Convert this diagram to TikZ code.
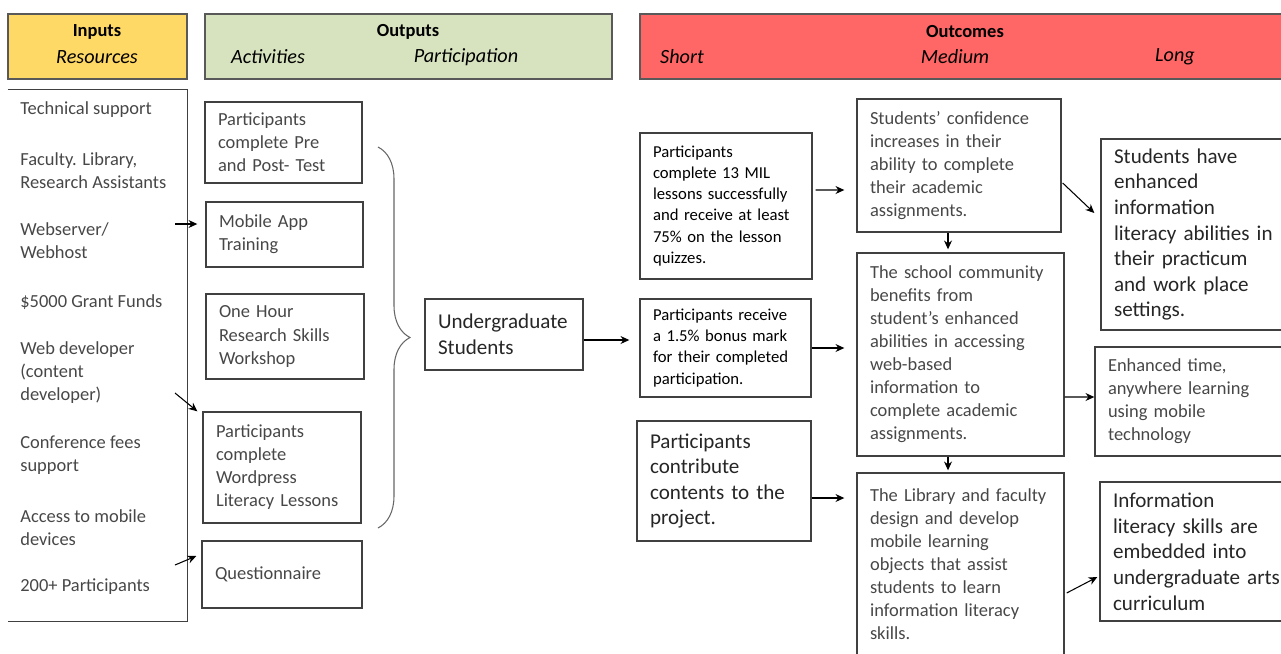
\documentclass[tikz,border=0pt]{standalone}
\usepackage{fontspec}
\setmainfont{Carlito}
\usepackage{tikz}
\usetikzlibrary{arrows.meta, calc, positioning, decorations.pathreplacing}
\definecolor{inputs}{RGB}{255,217,102}
\definecolor{outputs}{RGB}{215,227,190}
\definecolor{outcomes}{RGB}{255,102,102}

\begin{document}
\begin{tikzpicture}[x=0.02cm, y=-0.02cm]
% TikZ styles
\tikzset{
  head/.style={rectangle, draw=black!65, line width=1.1pt, minimum height=1.3cm},
  headtitle/.style={font=\fontsize{10.5}{12}\selectfont\bfseries, inner sep=0pt},
  headsub/.style={font=\fontsize{11.5}{13}\selectfont\itshape, inner sep=0pt},
  item/.style={anchor=west, align=left, inner sep=0pt, text=black!72, font=\fontsize{10.5}{13.1}\selectfont},
  textbox/.style={rectangle, draw=black!75, line width=0.8pt, inner xsep=0.26cm, inner ysep=0pt, align=left, text=black!72, font=\fontsize{10.5}{13.1}\selectfont},
  smallbox/.style={textbox, text=black, font=\fontsize{9.5}{12}\selectfont},
  bigbox/.style={textbox, text=black!85, font=\fontsize{12}{14.6}\selectfont},
  arrow/.style={-{Stealth[length=5pt, width=4.5pt]}, line width=0.6pt},
  bracestyle/.style={decorate, decoration={brace, amplitude=0.64cm}, draw=black!60, line width=0.6pt}
}
\clip (0,0) rectangle (1281,653);

%==========================
% Kopfzeilen
%==========================
\node[head, fill=inputs, minimum width=3.58cm] (hin) at (97.5,46.5) {};
\node[head, fill=outputs, minimum width=8.14cm] (hout) at (408.5,46.5) {};
\node[head, fill=outcomes, minimum width=13.2cm] (hoc) at (970,46.5) {};

\node[headtitle] (tin) at (97,32) {Inputs};
\node[headsub] (sres) at (97,57) {Resources};
\node[headtitle] (tout) at (408,32) {Outputs};
\node[headsub] (sact) at (268,57) {Activities};
\node[headsub] (spart) at (466,57) {Participation};
\node[headtitle] (toc) at (965,32) {Outcomes};
\node[headsub] (sshort) at (682,57) {Short};
\node[headsub] (smed) at (955,57) {Medium};
\node[headsub] (slong) at (1175,57) {Long};

%==========================
% Inputs
%==========================
\node[minimum width=3.58cm, minimum height=10.62cm, inner sep=0pt] (inp) at (97.5,355.5) {};
\draw[draw=black!75, line width=0.8pt] (inp.north west) -- (inp.north east) -- (inp.south east) -- (inp.south west);

\node[item] (tech) at (20,110) {Technical support};
\node[item] (fac) at (20,170.5) {Faculty. Library,\\Research Assistants};
\node[item] (web) at (20,240.5) {Webserver/\\Webhost};
\node[item] (grant) at (20,302) {\$5000 Grant Funds};
\node[item] (dev) at (20,373) {Web developer\\(content\\developer)};
\node[item] (conffee) at (20,455.5) {Conference fees\\support};
\node[item] (access) at (20,527.5) {Access to mobile\\devices};
\node[item] (part) at (20,587) {200+ Participants};

\coordinate (wsrc) at (175,224);
\coordinate (dsrc) at (175,393);
\coordinate (asrc) at (175,565);

%==========================
% Outputs
%==========================
\node[textbox, text width=2.62cm, minimum height=1.62cm] (pre) at (283.5,142.5) {Participants\\complete Pre\\and Post- Test};
\node[textbox, text width=2.62cm, minimum height=1.30cm] (app) at (284.5,234.5) {Mobile App\\Training};
\node[textbox, text width=2.64cm, minimum height=1.70cm] (wksp) at (285,336.5) {One Hour\\Research Skills\\Workshop};
\node[textbox, text width=2.64cm, minimum height=2.22cm] (wp) at (282,467.5) {Participants\\complete\\Wordpress\\Literacy Lessons};
\node[textbox, text width=2.68cm, minimum height=1.34cm] (quest) at (282,574.5) {Questionnaire};

\draw[bracestyle] (378,147) -- (378,528);

\node[bigbox, text width=2.64cm, minimum height=1.42cm] (ugrad) at (504,334.5) {Undergraduate\\Students};
\coordinate (ugout) at ($(ugrad.east)+(0,5.5)$);

%==========================
% Outcomes
%==========================
\node[smallbox, text width=2.92cm, minimum height=2.92cm] (mil) at (726,206) {Participants\\complete 13 MIL\\lessons successfully\\and receive at least\\75\% on the lesson\\quizzes.};
\node[smallbox, text width=2.90cm, minimum height=1.96cm] (bonus) at (725.5,348) {Participants receive\\a 1.5\% bonus mark\\for their completed\\participation.};
\node[bigbox, text width=2.96cm, minimum height=2.40cm] (contrib) at (724,481) {Participants\\contribute\\contents to the\\project.};

\node[textbox, text width=3.56cm, minimum height=2.66cm] (conf) at (959,165.5) {Students’ confidence\\increases in their\\ability to complete\\their academic\\assignments.};
\node[textbox, text width=3.62cm, minimum height=4.06cm] (comm) at (960.5,354.5) {The school community\\benefits from\\student's enhanced\\abilities in accessing\\web-based\\information to\\complete academic\\assignments.};
\node[textbox, text width=3.62cm, minimum height=3.66cm] (lib) at (960.5,564.5) {The Library and faculty\\design and develop\\mobile learning\\objects that assist\\students to learn\\information literacy\\skills.};

\node[bigbox, text width=3.46cm, minimum height=3.82cm] (long1) at (1200.5,234.5) {Students have\\enhanced\\information\\literacy abilities in\\their practicum\\and work place\\settings.};
\node[textbox, text width=3.58cm, minimum height=2.18cm] (long2) at (1197.5,401.5) {Enhanced time,\\anywhere learning\\using mobile\\technology};
\node[bigbox, text width=3.48cm, minimum height=2.78cm] (long3) at (1200,551.5) {Information\\literacy skills are\\embedded into\\undergraduate arts\\curriculum};

% === Pfeile ===
\draw[arrow] (wsrc) -- ($(app.west)+(-8,-10.5)$);
\draw[arrow] (dsrc) -- ($(wp.north west)+(-5,0)$);
\draw[arrow] (asrc) -- ($(quest.west)+(-5,-18.5)$);

\draw[arrow, shorten >=0.2cm] (ugout) -- (ugout -| bonus.west);
\draw[arrow] ($(mil.east)+(3,-16)$) -- ($(conf.west)+(-12,24.5)$);
\draw[arrow, shorten >=0.24cm] (bonus.east) -- (bonus.east -| comm.west);
\draw[arrow, shorten >=0.24cm] ($(contrib.east)+(0,17)$) -- ($(lib.west)+(0,-66.5)$);

\draw[arrow] ($(conf.south)+(-11,0)$) -- ($(comm.north)+(-12.5,-3)$);
\draw[arrow] ($(comm.south)+(-12.5,0)$) -- ($(lib.north)+(-12.5,-2)$);

\draw[arrow] ($(conf.east)+(1,17.5)$) -- ($(long1.west)+(-6,-21.5)$);
\draw[arrow] ($(comm.east)+(0,42.5)$) -- ($(long2.west)+(0,-4.5)$);
\draw[arrow] ($(lib.east)+(2,28.5)$) -- ($(long3.west)+(-2,25.5)$);

\end{tikzpicture}
\end{document}
